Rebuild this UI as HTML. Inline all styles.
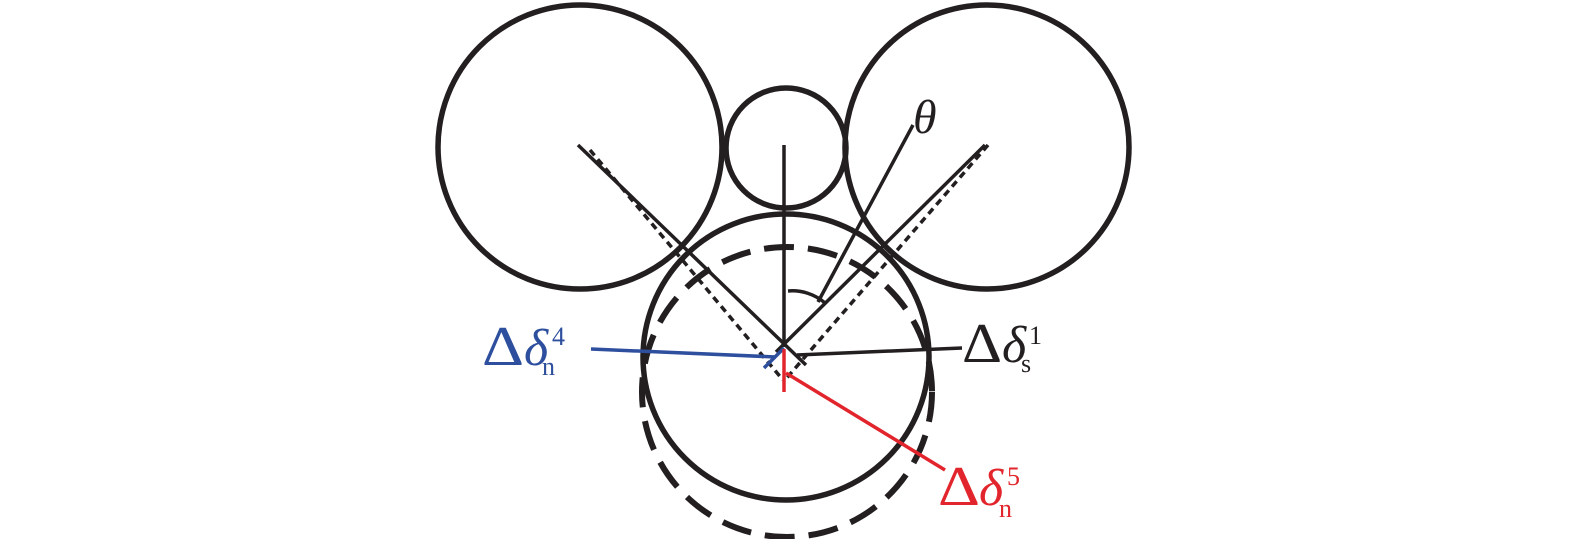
<!DOCTYPE html>
<html><head><meta charset="utf-8"><style>
html,body{margin:0;padding:0;background:#fff;}
svg{display:block;}
text{font-family:"Liberation Serif",serif;}
</style></head><body>
<svg width="1575" height="539" viewBox="0 0 1575 539" xmlns="http://www.w3.org/2000/svg">
<g fill="none" stroke="#231f20">
<circle cx="580" cy="147" r="142" stroke-width="5.5"/>
<circle cx="987" cy="147" r="142" stroke-width="5.5"/>
<circle cx="786" cy="148" r="60" stroke-width="5.5"/>
<circle cx="786" cy="357" r="143" stroke-width="5.5"/>
<circle cx="787" cy="392" r="145" stroke-width="6" stroke-dasharray="30,14"/>
<line x1="784" y1="145" x2="784" y2="347" stroke-width="3.5"/>
<line x1="578" y1="145" x2="806" y2="365" stroke-width="3.5"/>
<line x1="985" y1="145" x2="776" y2="352" stroke-width="3.5"/>
<line x1="590" y1="150" x2="783" y2="380" stroke-width="3.5" stroke-dasharray="7,5"/>
<line x1="988" y1="145" x2="785" y2="380" stroke-width="3.5" stroke-dasharray="7,5"/>
<line x1="797" y1="355" x2="962" y2="348" stroke-width="3.5"/>
<line x1="818" y1="302" x2="913" y2="125" stroke-width="3.5"/>
<path d="M788 291 A50 50 0 0 1 825 303" stroke-width="3.5"/>
</g>
<g stroke="#2e4f9e" stroke-width="3.5" fill="none">
<line x1="591" y1="349" x2="776" y2="357"/>
<line x1="784" y1="348" x2="764" y2="368"/>
</g>
<g stroke="#e2252c" stroke-width="3.5" fill="none">
<line x1="784" y1="349" x2="784" y2="392"/>
<line x1="786" y1="373" x2="945" y2="470"/>
</g>
<text x="913" y="133" font-size="48" font-style="italic" fill="#231f20">θ</text>
<g fill="#2e4f9e"><text x="482" y="365" font-size="56" textLength="42" lengthAdjust="spacingAndGlyphs">Δ</text>
<text x="524" y="365" font-size="52" font-style="italic">δ</text>
<text x="552" y="345" font-size="26">4</text><text x="542" y="375" font-size="26">n</text></g>
<g fill="#231f20"><text x="962" y="362" font-size="56" textLength="40" lengthAdjust="spacingAndGlyphs">Δ</text>
<text x="1002" y="362" font-size="52" font-style="italic">δ</text>
<text x="1029" y="344" font-size="26">1</text><text x="1021" y="372" font-size="26">s</text></g>
<g fill="#e2252c"><text x="938" y="505" font-size="56" textLength="42" lengthAdjust="spacingAndGlyphs">Δ</text>
<text x="979" y="505" font-size="52" font-style="italic">δ</text>
<text x="1007" y="485" font-size="26">5</text><text x="999" y="517" font-size="26">n</text></g>
</svg>
</body></html>
